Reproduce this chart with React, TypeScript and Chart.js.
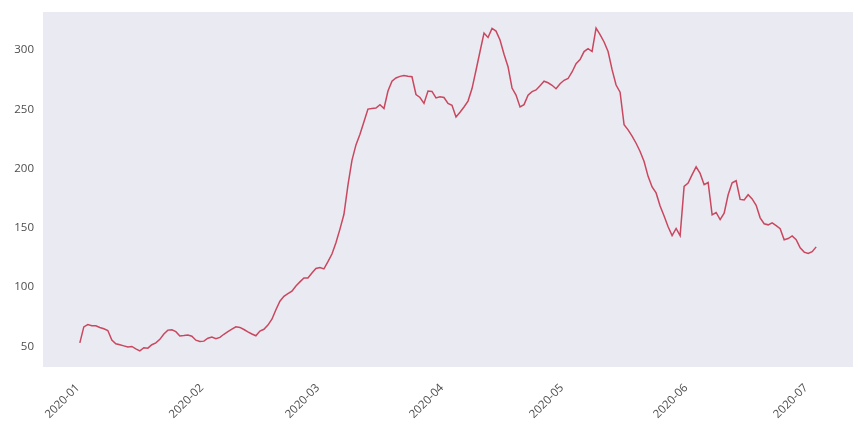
import React, { useEffect, useRef } from 'react';
import { Chart, registerables } from 'chart.js';

Chart.register(...registerables);

// Daily values, one per day starting 2020-01-01
const dailyValues: number[] = [
  53, 66.5, 68.5, 67.5, 67.5, 66, 65, 63.5, 55.5, 52.3,
  51.5, 50.5, 49.5, 50, 48, 46.3, 49, 48.6, 51.5, 53,
  56, 60.5, 63.8, 64, 62.5, 58.8, 59.2, 59.7, 58.7, 55.3,
  54.2, 54.5, 57, 57.9, 56.6, 57.7, 60.3, 62.5, 64.6, 66.6,
  66.1, 64.3, 62.3, 60.5, 59, 63, 64.5, 68, 73, 81,
  88.2, 92.3, 94.5, 96.7, 101, 104.5, 107.7, 107.8, 112, 115.8,
  116.6, 115.4, 121.5, 128, 137.5, 149, 161.5, 186, 207, 220,
  229, 239.5, 250.2, 250.8, 251.1, 253.9, 250.7, 265.5, 273.8, 276.5,
  277.8, 278.6, 278, 277.5, 262.5, 260, 255, 265.5, 265.1, 259.6,
  260.6, 260, 255, 253.5, 243.5, 247.5, 252, 257, 267.5, 283,
  298.8, 314.3, 310.6, 318.3, 316, 308.5, 296.5, 286, 268, 262,
  252, 254, 262, 265, 266.4, 270, 273.7, 272.4, 270.3, 267.4,
  271.6, 274.5, 276, 281.5, 288.5, 292, 298.7, 301.2, 298.8, 318.5,
  313, 306.8, 298.8, 283.5, 270.5, 264.5, 237, 232.7, 227.5, 221.4,
  214.5, 206, 193.5, 184.5, 179.5, 168.5, 160, 151, 143.5, 149.5,
  143.5, 185, 187.8, 195, 201.5, 196, 186.5, 188.3, 161, 163,
  157, 162.5, 178, 188, 189.8, 174, 173.5, 178, 174.5, 169,
  158.5, 153.5, 152.6, 154.3, 152, 149.3, 140, 141, 143.2, 140,
  133.2, 129.6, 128.4, 130, 134,
];

// Day offsets (from 2020-01-01) of month starts and their labels
const monthTickDays: number[] = [0, 31, 60, 91, 121, 152, 182];
const monthTickLabels: string[] = ['2020-01', '2020-02', '2020-03', '2020-04', '2020-05', '2020-06', '2020-07'];
const yTickValues: number[] = [50, 100, 150, 200, 250, 300];

const plotBg = {
  id: 'plotBg',
  beforeDraw(chart: any) {
    const { ctx, chartArea } = chart;
    if (!chartArea) return;
    ctx.save();
    ctx.fillStyle = '#EAEAF2';
    ctx.fillRect(chartArea.left, chartArea.top, chartArea.right - chartArea.left, chartArea.bottom - chartArea.top);
    ctx.restore();
  },
};

export default function App() {
  const ref = useRef<HTMLCanvasElement | null>(null);

  useEffect(() => {
    if (!ref.current) return;
    const n = dailyValues.length - 1;
    const margin = n * 0.05;
    const vMin = Math.min(...dailyValues);
    const vMax = Math.max(...dailyValues);
    const vMargin = (vMax - vMin) * 0.05;
    const tickFont = { family: '"Open Sans", sans-serif', size: 11.5 };
    const chart = new Chart(ref.current, {
      type: 'line',
      data: {
        datasets: [
          {
            data: dailyValues.map((v, i) => ({ x: i, y: v })),
            borderColor: '#C9485F',
            borderWidth: 1.5,
            pointRadius: 0,
            fill: false,
            tension: 0,
          },
        ],
      },
      options: {
        responsive: false,
        animation: false,
        maintainAspectRatio: false,
        layout: { padding: { left: 0, top: 12, right: 11, bottom: 0 } },
        plugins: { legend: { display: false }, tooltip: { enabled: false } },
        scales: {
          x: {
            type: 'linear',
            min: -margin,
            max: n + margin,
            border: { display: false },
            grid: { display: false, drawTicks: false },
            afterBuildTicks: (scale: any) => {
              scale.ticks = monthTickDays.map((d) => ({ value: d }));
            },
            afterFit: (scale: any) => {
              scale.height = 65;
              scale.paddingLeft = 0;
              scale.paddingRight = 0;
            },
            ticks: {
              autoSkip: false,
              minRotation: 45,
              maxRotation: 45,
              padding: 12,
              color: '#4d4d4d',
              font: tickFont,
              callback: (value: any) => {
                const idx = monthTickDays.indexOf(Number(value));
                return idx >= 0 ? monthTickLabels[idx] + ' ' : '';
              },
            },
          },
          y: {
            type: 'linear',
            min: vMin - vMargin,
            max: vMax + vMargin,
            border: { display: false },
            grid: { display: false, drawTicks: false },
            afterBuildTicks: (scale: any) => {
              scale.ticks = yTickValues.map((v) => ({ value: v }));
            },
            afterFit: (scale: any) => {
              scale.width = 43;
              scale.paddingTop = 0;
              scale.paddingBottom = 0;
            },
            ticks: {
              autoSkip: false,
              padding: 9,
              color: '#4d4d4d',
              font: tickFont,
              callback: (value: any) => String(value),
            },
          },
        },
      },
      plugins: [plotBg],
    } as any);
    return () => chart.destroy();
  }, []);

  return (
    <div style={{ position: 'fixed', left: 0, top: 0, width: 864, height: 432, background: '#ffffff' }}>
      <canvas ref={ref} width={864} height={432} style={{ width: 864, height: 432, display: 'block' }} />
    </div>
  );
}
